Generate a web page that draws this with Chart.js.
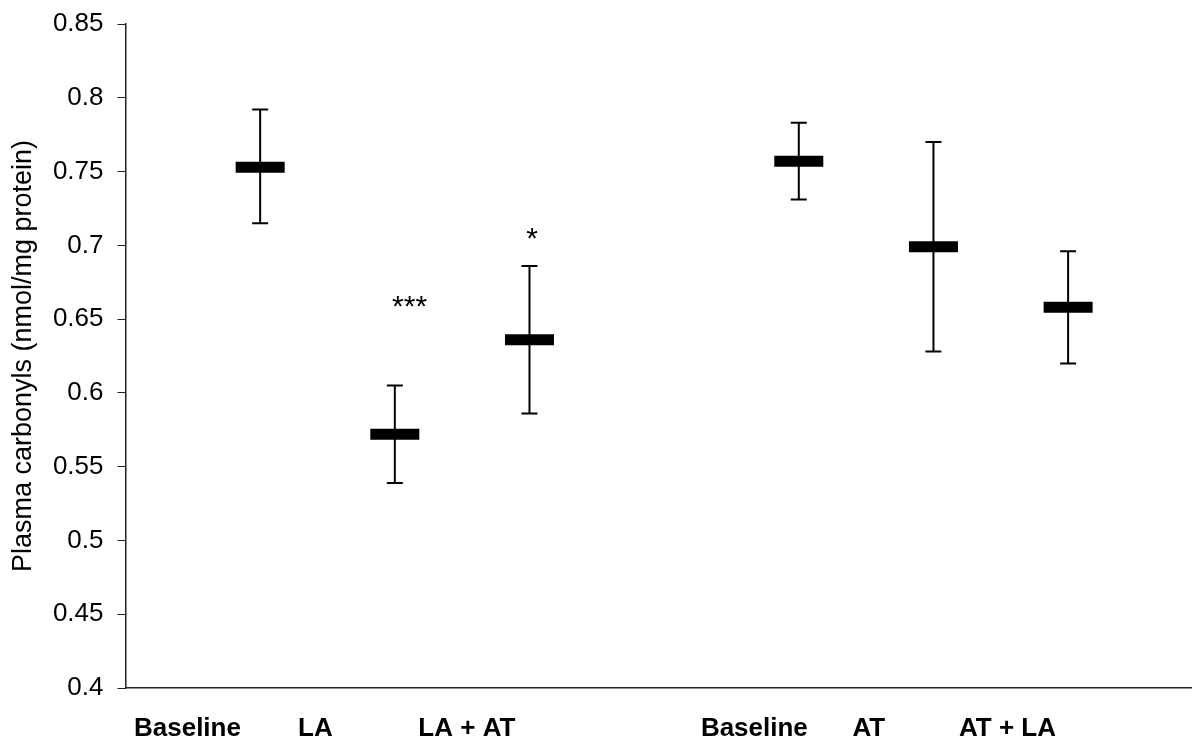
<!DOCTYPE html>
<html>
<head>
<meta charset="utf-8">
<script src="https://cdn.jsdelivr.net/npm/chart.js@4/dist/chart.umd.min.js"></script>
<style>
    html, body { margin: 0; padding: 0; background: #fff; }
    #wrap { width: 1192px; height: 740px; }
</style>
</head>
<body>
<div id="wrap"><canvas id="chart"></canvas></div>
<script>
// --------------------------- Data

const groups = ['Baseline', 'LA', 'LA + AT', 'Baseline', 'AT', 'AT + LA'];
const group_x = [1, 2, 3, 5, 6, 7];          // slot 4 is the gap between the two studies
const label_x = [0.46, 1.41, 2.535, 4.67, 5.52, 6.55];   // where the category names sit under the axis

const mean_vals = [0.753, 0.572, 0.636, 0.757, 0.699, 0.658];
const upper_vals = [0.792, 0.605, 0.686, 0.783, 0.770, 0.696];
const lower_vals = [0.715, 0.539, 0.586, 0.731, 0.628, 0.620];

const y_ticks = [0.4, 0.45, 0.5, 0.55, 0.6, 0.65, 0.7, 0.75, 0.8, 0.85];

// significance marks: text, x slot, y value
const sig_marks = [
    { text: '***', x: 2.11, y: 0.664 },
    { text: '*', x: 3.02, y: 0.710 }
];

// --------------------------- Datasets

// whiskers as one broken line: lower -> upper, then a null to lift the pen
let whisker_pts = [];
group_x.forEach((x, i) => {
    whisker_pts.push({ x: x, y: lower_vals[i] });
    whisker_pts.push({ x: x, y: upper_vals[i] });
    whisker_pts.push({ x: x, y: null });
});

const data = {
    datasets: [
        {
            label: 'whisker',
            data: whisker_pts,
            showLine: true,
            spanGaps: false,
            borderColor: '#000',
            borderWidth: 2,
            pointRadius: 0
        },
        {
            label: 'caps',
            data: group_x.flatMap((x, i) => [{ x: x, y: upper_vals[i] }, { x: x, y: lower_vals[i] }]),
            pointStyle: 'line',
            pointRadius: 8,
            borderWidth: 2,
            borderColor: '#000'
        },
        {
            label: 'mean',
            data: group_x.map((x, i) => ({ x: x, y: mean_vals[i] })),
            pointStyle: 'line',
            pointRadius: 24.5,
            borderWidth: 11,
            borderColor: '#000'
        }
    ]
};

const SIG_FONT = 30;

// draws the asterisks at data coordinates
const sigPlugin = {
    id: 'sig',
    afterDatasetsDraw(chart) {
        const ctx = chart.ctx;
        const xs = chart.scales.x, ys = chart.scales.y;
        ctx.save();
        ctx.fillStyle = '#000';
        ctx.font = SIG_FONT + 'px "Liberation Sans", Arial, sans-serif';
        ctx.textAlign = 'center';
        ctx.textBaseline = 'alphabetic';
        sig_marks.forEach(m => {
            // asterisk glyph centre is ~0.58em above the baseline
            ctx.fillText(m.text, xs.getPixelForValue(m.x), ys.getPixelForValue(m.y) + 0.58 * SIG_FONT);
        });
        ctx.restore();
    }
};

// drop the label overhang padding the scales ask for, the plot area is set by layout.padding
function noScalePadding(scale) {
    scale.paddingTop = 0;
    scale.paddingBottom = 0;
    scale.paddingLeft = 0;
    scale.paddingRight = 0;
}

const options = {
    responsive: true,
    maintainAspectRatio: false,
    animation: false,
    layout: {
        autoPadding: false,
        padding: { top: 24, right: 0, left: 0, bottom: 0 }
    },
    plugins: {
        legend: { display: false },
        tooltip: { enabled: false }
    },
    scales: {
        x: {
            type: 'linear',
            min: 0,
            max: 7.92,
            grid: { display: false, drawTicks: false },
            border: { display: true, color: '#222', width: 1.5 },
            afterBuildTicks: (scale) => {
                scale.ticks = label_x.map(v => ({ value: v }));
            },
            afterFit: (scale) => {
                scale.height = 52;
                noScalePadding(scale);
            },
            ticks: {
                autoSkip: false,
                maxRotation: 0,
                padding: 25,
                color: '#000',
                font: { family: '"Liberation Sans", Arial, sans-serif', size: 26, weight: 'bold' },
                callback: (value, index) => groups[index]
            }
        },
        y: {
            type: 'linear',
            min: 0.4,
            max: 0.85,
            afterBuildTicks: (scale) => {
                scale.ticks = y_ticks.map(v => ({ value: v }));
            },
            afterFit: (scale) => {
                scale.width = 125.5;
                noScalePadding(scale);
            },
            grid: { drawOnChartArea: false, drawTicks: true, tickLength: 8, color: '#222' },
            border: { display: true, color: '#222', width: 1.5 },
            ticks: {
                padding: 14,
                color: '#000',
                font: { family: '"Liberation Sans", Arial, sans-serif', size: 26 },
                callback: (value) => String(Math.round(value * 100) / 100)
            },
            title: {
                display: true,
                text: 'Plasma carbonyls (nmol/mg protein)',
                color: '#000',
                font: { family: '"Liberation Sans", Arial, sans-serif', size: 27 },
                padding: { top: 7, bottom: 0 }
            }
        }
    }
};

const config = {
    type: 'scatter',
    data: data,
    options: options,
    plugins: [sigPlugin]
};

const main_chart = new Chart(document.getElementById('chart'), config);
</script>
</body>
</html>
